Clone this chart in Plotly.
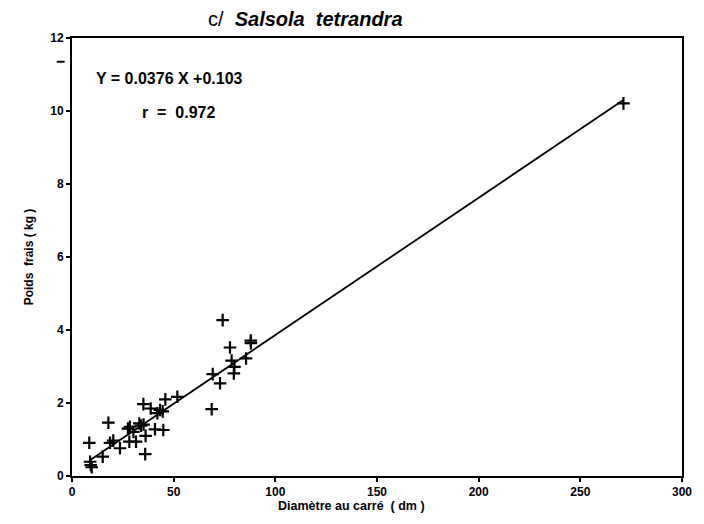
import plotly.graph_objects as go

# Squared diameter (dm) and fresh weight (kg) of each plant
diametre = [8.5, 8.9, 9.7, 9.2, 15.1, 17.9, 18.7, 20.3, 23.6, 28.2, 28.5, 30.2, 31.5,
            33.1, 35.1, 35.2, 36.2, 36.0, 38.7, 40.8, 43.3, 44.6, 44.9, 45.9, 51.8,
            68.7, 69.2, 72.8, 74.1, 77.7, 78.5, 79.9, 79.6, 85.6, 87.9, 88.0, 271.2,
            27.5, 34.0, 42.0]
poids = [0.91, 0.39, 0.24, 0.30, 0.53, 1.46, 0.91, 0.97, 0.76, 0.94, 1.35, 1.21, 0.94,
         1.44, 1.97, 1.41, 1.10, 0.60, 1.85, 1.28, 1.81, 1.77, 1.26, 2.10, 2.17,
         1.83, 2.79, 2.54, 4.27, 3.52, 3.16, 2.99, 2.81, 3.22, 3.71, 3.64, 10.21,
         1.30, 1.38, 1.72]

# Regression line
pente, ordonnee = 0.0376, 0.103
x_droite = [9.0, 271.0]
y_droite = [pente * x + ordonnee for x in x_droite]

font = dict(family="Liberation Sans, Arial, sans-serif", color="black")

fig = go.Figure()
fig.add_trace(go.Scatter(x=diametre, y=poids, mode="markers",
                         marker=dict(symbol="cross-thin", size=9,
                                     line=dict(color="black", width=2.2)),
                         showlegend=False))
fig.add_trace(go.Scatter(x=x_droite, y=y_droite, mode="lines",
                         line=dict(color="black", width=1.8), showlegend=False))

axis_common = dict(showline=True, linecolor="black", linewidth=2, mirror=True,
                   ticks="outside", ticklen=4, tickwidth=1.5, tickcolor="black",
                   showgrid=False, zeroline=False,
                   tickfont=dict(size=12, weight="bold", **font))

fig.update_xaxes(range=[0, 300], dtick=50, tick0=0, **axis_common)
fig.update_yaxes(range=[0, 12], dtick=2, tick0=0,
                 title=dict(text="Poids  frais ( kg )",
                            font=dict(size=12, weight="bold", **font), standoff=14),
                 **axis_common)

fig.add_annotation(x=0.382, y=1.0, xref="paper", yref="paper", yanchor="bottom",
                   yshift=6, showarrow=False,
                   text="c/  <b><i>Salsola  tetrandra</i></b>",
                   font=dict(size=20, **font))
fig.add_annotation(x=0.459, y=0, xref="paper", yref="paper", yanchor="top",
                   yshift=-21, showarrow=False,
                   text="Diamètre au carré  ( dm )",
                   font=dict(size=12.5, weight="bold", **font))
fig.add_annotation(x=0.036, y=10.9, xref="paper", yref="y", xanchor="left",
                   showarrow=False, text="<b>Y = 0.0376 X +0.103</b>",
                   font=dict(size=16, **font))
fig.add_annotation(x=0.112, y=9.95, xref="paper", yref="y", xanchor="left",
                   showarrow=False, text="<b>r  =  0.972</b>",
                   font=dict(size=16, **font))

# short stray dash left of the y axis near the top
fig.add_shape(type="line", xref="paper", yref="y", x0=-0.025, x1=-0.012,
              y0=11.35, y1=11.35, line=dict(color="black", width=2))

fig.update_layout(width=704, height=524, plot_bgcolor="white", paper_bgcolor="white",
                  margin=dict(l=72, r=22, t=38, b=48))

fig.write_html("out.html")
